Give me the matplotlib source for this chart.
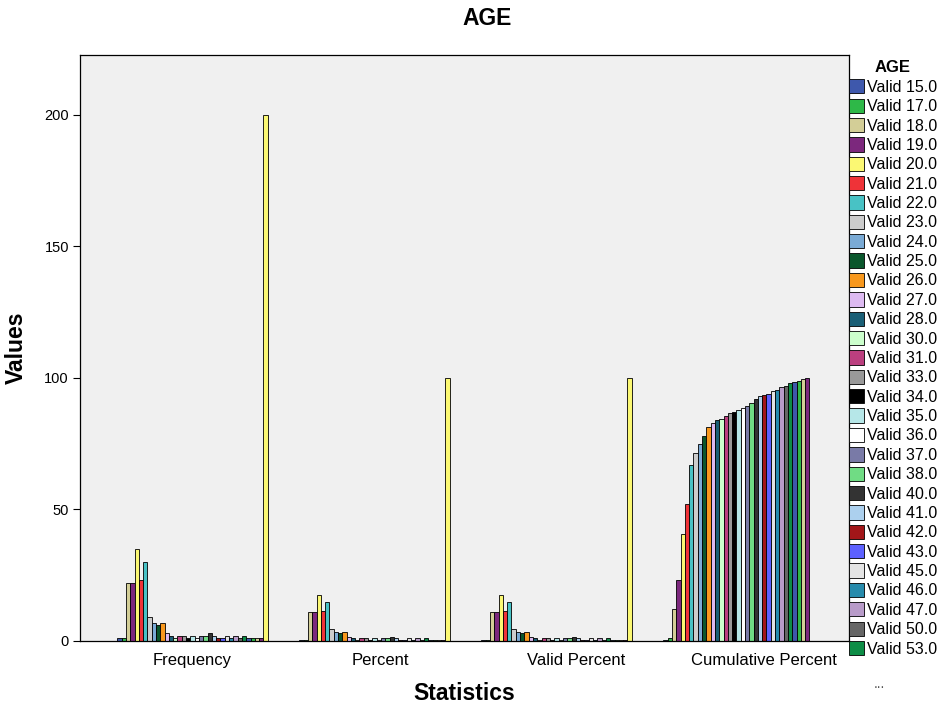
import numpy as np
import matplotlib
matplotlib.use("Agg")
import matplotlib.pyplot as plt

plt.rcParams['font.family'] = ['Liberation Sans', 'DejaVu Sans']

# Frequency table of AGE, one series per table row
age_labels = ["Valid 15.0", "Valid 17.0", "Valid 18.0", "Valid 19.0", "Valid 20.0",
              "Valid 21.0", "Valid 22.0", "Valid 23.0", "Valid 24.0", "Valid 25.0",
              "Valid 26.0", "Valid 27.0", "Valid 28.0", "Valid 30.0", "Valid 31.0",
              "Valid 33.0", "Valid 34.0", "Valid 35.0", "Valid 36.0", "Valid 37.0",
              "Valid 38.0", "Valid 40.0", "Valid 41.0", "Valid 42.0", "Valid 43.0",
              "Valid 45.0", "Valid 46.0", "Valid 47.0", "Valid 50.0", "Valid 53.0",
              "Valid 55.0", "Valid 56.0", "Valid 60.0", "Valid 62.0", "Valid Total"]

frequency = [1, 1, 22, 22, 35, 23, 30, 9, 7, 6, 7, 3, 2, 1, 2, 2, 1, 2, 1, 2,
             2, 3, 2, 1, 1, 2, 1, 2, 1, 2, 1, 1, 1, 1, 200]

percent = [0.5, 0.5, 11.0, 11.0, 17.5, 11.5, 15.0, 4.5, 3.5, 3.0, 3.5, 1.5, 1.0, 0.5,
           1.0, 1.0, 0.5, 1.0, 0.5, 1.0, 1.0, 1.5, 1.0, 0.5, 0.5, 1.0, 0.5, 1.0, 0.5,
           1.0, 0.5, 0.5, 0.5, 0.5, 100.0]

valid_percent = [0.5, 0.5, 11.0, 11.0, 17.5, 11.5, 15.0, 4.5, 3.5, 3.0, 3.5, 1.5, 1.0,
                 0.5, 1.0, 1.0, 0.5, 1.0, 0.5, 1.0, 1.0, 1.5, 1.0, 0.5, 0.5, 1.0, 0.5,
                 1.0, 0.5, 1.0, 0.5, 0.5, 0.5, 0.5, 100.0]

cumulative_percent = [0.5, 1.0, 12.0, 23.0, 40.5, 52.0, 67.0, 71.5, 75.0, 78.0, 81.5,
                      83.0, 84.0, 84.5, 85.5, 86.5, 87.0, 88.0, 88.5, 89.5, 90.5, 92.0,
                      93.0, 93.5, 94.0, 95.0, 95.5, 96.5, 97.0, 98.0, 98.5, 99.0, 99.5,
                      100.0, np.nan]

statistics = ["Frequency", "Percent", "Valid Percent", "Cumulative Percent"]

# SPSS-style default colour cycle
palette = ["#3E58AC", "#2EB848", "#D3CE97", "#7C287D", "#FBF873", "#EF3338",
           "#48C2C5", "#CCCCCC", "#7AAAD5", "#0A562C", "#F8981D", "#DDBAF1",
           "#1A5F76", "#CCFFCC", "#BB3F7F", "#999999", "#000000", "#B6E7E8",
           "#FFFFFF", "#797AA7", "#70DC84", "#333333", "#ACD0EE", "#A21619",
           "#5D61FF", "#E4E4E4", "#278BAC", "#B89BC9", "#666666", "#0D8D46"]

fig = plt.figure(figsize=(9.46, 7.19), dpi=100)
ax = fig.add_axes([0.0846, 0.1085, 0.8129, 0.815])
ax.set_facecolor("#F0F0F0")

n_series = len(age_labels)
bar_w = 0.0236
group_x = np.arange(len(statistics))
handles = []
for i in range(n_series):
    vals = np.array([frequency[i], percent[i], valid_percent[i], cumulative_percent[i]],
                    dtype=float)
    ok = ~np.isnan(vals)
    xpos = group_x - bar_w * n_series / 2 + bar_w * (i + 0.5)
    bc = ax.bar(xpos[ok], vals[ok], width=bar_w, color=palette[i % len(palette)],
                edgecolor="black", linewidth=0.6, label=age_labels[i])
    handles.append(bc)

ax.set_xlim(-0.618, 3.607)
ax.set_ylim(0, 222.8)
ax.set_yticks([0, 50, 100, 150, 200])
ax.tick_params(axis="y", direction="out", length=5, width=0.8, labelsize=10.5, pad=3)
ax.set_xticks([0, 1.03, 2.11, 3.14])
ax.set_xticklabels(statistics)
ax.tick_params(axis="x", length=0, labelsize=12, pad=9)
for s in ax.spines.values():
    s.set_color("black")
    s.set_linewidth(0.9)

ax.set_ylabel("Values", fontsize=16.5, fontweight="bold", labelpad=12)
ax.set_xlabel("Statistics", fontsize=16.5, fontweight="bold", labelpad=10)
fig.text(0.515, 0.974, "AGE", ha="center", va="center", fontsize=16.5, fontweight="bold")

leg = fig.legend(handles[:30], age_labels[:30], loc="upper left",
                 bbox_to_anchor=(0.897, 0.916), frameon=False, fontsize=11.5,
                 title="AGE", title_fontproperties={"weight": "bold", "size": 12},
                 handlelength=0.95, handleheight=1.0, handletextpad=0.2,
                 labelspacing=0.235, borderpad=0.0, borderaxespad=0.0)
fig.text(0.93, 0.048, "...", ha="center", va="center", fontsize=10, color="#555555")

fig.savefig("out.png", dpi=100)
